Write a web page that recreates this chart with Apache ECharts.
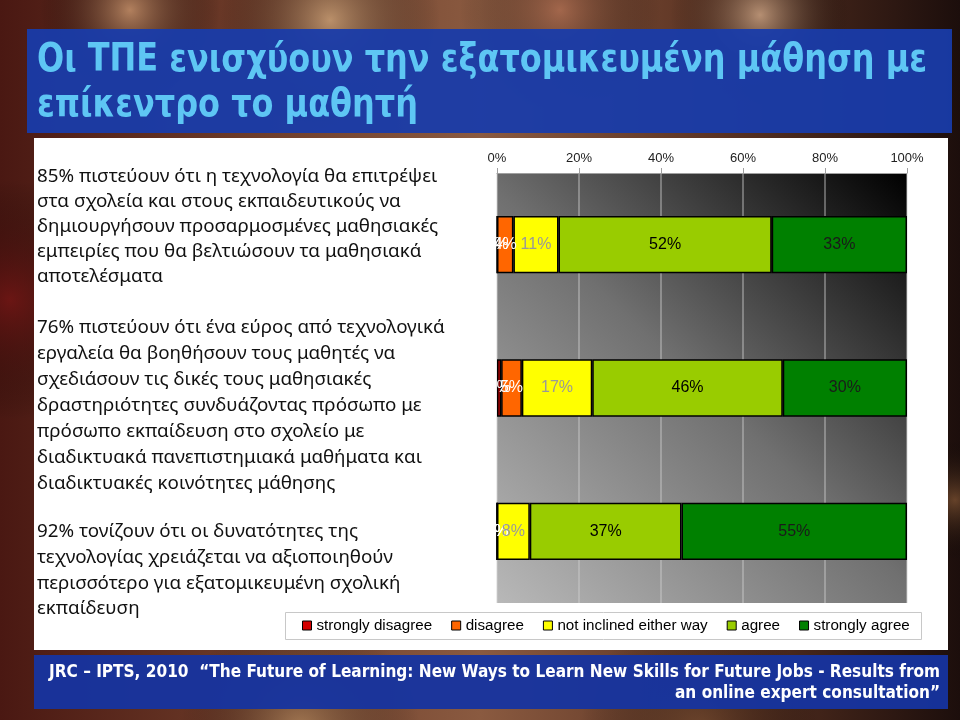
<!DOCTYPE html>
<html>
<head>
<meta charset="utf-8">
<script src="https://cdn.jsdelivr.net/npm/echarts@6/dist/echarts.min.js"></script>
<style>
html,body{margin:0;padding:0;background:#3a1a12;}
#chart{width:960px;height:720px;}
</style>
</head>
<body>
<div id="chart"></div>
<script>
// ---- data ----
const categories = ['row1', 'row2', 'row3'];
const seriesNames = ['strongly disagree', 'disagree', 'not inclined either way', 'agree', 'strongly agree'];
const stronglyDisagree = [0, 1, 0];
const disagree = [4, 5, 0];
const notInclined = [11, 17, 8];
const agree = [52, 46, 37];
const stronglyAgree = [33, 30, 55];
const tickLabels = ['0%', '20%', '40%', '60%', '80%', '100%'];

const titleLines = ['Οι ΤΠΕ ενισχύουν την εξατομικευμένη μάθηση με', 'επίκεντρο το μαθητή'];
const text1 = ['85% πιστεύουν ότι η τεχνολογία θα επιτρέψει', 'στα σχολεία και στους εκπαιδευτικούς να', 'δημιουργήσουν προσαρμοσμένες μαθησιακές', 'εμπειρίες που θα βελτιώσουν τα μαθησιακά', 'αποτελέσματα'];
const text2 = ['76% πιστεύουν ότι ένα εύρος από τεχνολογικά', 'εργαλεία θα βοηθήσουν τους μαθητές να', 'σχεδιάσουν τις δικές τους μαθησιακές', 'δραστηριότητες συνδυάζοντας πρόσωπο με', 'πρόσωπο εκπαίδευση στο σχολείο με', 'διαδικτυακά πανεπιστημιακά μαθήματα και', 'διαδικτυακές κοινότητες μάθησης'];
const text3 = ['92% τονίζουν ότι οι δυνατότητες της', 'τεχνολογίας χρειάζεται να αξιοποιηθούν', 'περισσότερο για εξατομικευμένη σχολική', 'εκπαίδευση'];
const footerLines = ['JRC – IPTS, 2010  “The Future of Learning: New Ways to Learn New Skills for Future Jobs - Results from', 'an online expert consultation”'];

// ---- styles ----
const colors = ['#d40000', '#ff6600', '#ffff00', '#99cc00', '#008000'];
const labelColors = ['#ffffff', '#ffffff', '#999999', '#000000', '#1a1a1a'];
const seriesData = [stronglyDisagree, disagree, notInclined, agree, stronglyAgree];

// 100% stacked: each row is drawn as share of its total (as the original chart type does)
const rowTotals = categories.map(function (_, r) {
  return seriesData.reduce(function (s, arr) { return s + arr[r]; }, 0);
});

const chart = echarts.init(document.getElementById('chart'), null, {renderer: 'canvas'});

const measureCtx = document.createElement('canvas').getContext('2d');
function fitScale(text, font, target) {
  measureCtx.font = font;
  return target / measureCtx.measureText(text).width;
}

function radial(cx, cy, r, color) {
  return {
    type: 'circle', z: -90, silent: true,
    shape: {cx: cx, cy: cy, r: r},
    style: {fill: {type: 'radial', x: 0.5, y: 0.5, r: 0.5, colorStops: [
      {offset: 0, color: color}, {offset: 1, color: 'rgba(0,0,0,0)'}]}}
  };
}

const bodyFont = '18.8px "Noto Sans", "Open Sans", sans-serif';
const titleFont = 'bold 39px "DejaVu Sans Condensed", "DejaVu Sans", sans-serif';
const footerFont = 'bold 18px "DejaVu Sans Condensed", "DejaVu Sans", sans-serif';
const titleScale = fitScale(titleLines[0], titleFont, 890);
const footerScale = fitScale(footerLines[0], footerFont, 891);

const graphics = [
  {type: 'rect', z: -100, silent: true, shape: {x: 0, y: 0, width: 960, height: 720},
   style: {fill: {type: 'linear', x: 0, y: 0, x2: 1, y2: 0, colorStops: [
     {offset: 0, color: '#4a1812'}, {offset: 0.25, color: '#6b3a28'}, {offset: 0.5, color: '#8a5a40'},
     {offset: 0.75, color: '#5a3222'}, {offset: 1, color: '#1c0e0c'}]}}},
  radial(130, 10, 90, 'rgba(200,150,110,0.8)'),
  radial(330, 20, 110, 'rgba(215,175,130,0.7)'),
  radial(560, 10, 100, 'rgba(190,120,90,0.6)'),
  radial(760, 15, 90, 'rgba(225,185,150,0.7)'),
  radial(10, 300, 120, 'rgba(120,20,20,0.7)'),
  radial(955, 500, 60, 'rgba(150,100,60,0.6)'),
  radial(300, 730, 120, 'rgba(200,160,110,0.6)'),
  radial(700, 730, 120, 'rgba(120,80,50,0.6)'),
  // title bar
  {type: 'rect', z: -50, silent: true, shape: {x: 27, y: 29, width: 925, height: 104},
   style: {fill: 'rgba(24,60,170,0.94)'}},
  // white panel
  {type: 'rect', z: -50, silent: true, shape: {x: 34, y: 138, width: 914, height: 512},
   style: {fill: '#ffffff'}},
  // footer bar
  {type: 'rect', z: -50, silent: true, shape: {x: 34, y: 655, width: 914, height: 54},
   style: {fill: 'rgba(22,52,160,0.95)'}},
  // legend box
  {type: 'rect', z: -40, silent: true, shape: {x: 285.5, y: 612.5, width: 636, height: 27},
   style: {fill: '#ffffff', stroke: '#c8c8c8', lineWidth: 1}},
  // title text
  {type: 'text', z: 10, silent: true, x: 37, y: 38, scaleX: titleScale,
   style: {text: titleLines.join('\n'), fill: '#5ec6f4', lineHeight: 45, font: titleFont}},
  // left texts
  {type: 'text', z: 10, silent: true, x: 37, y: 164,
   style: {text: text1.join('\n'), fill: '#111', lineHeight: 25, font: bodyFont}},
  {type: 'text', z: 10, silent: true, x: 37, y: 315,
   style: {text: text2.join('\n'), fill: '#111', lineHeight: 26, font: bodyFont}},
  {type: 'text', z: 10, silent: true, x: 37, y: 519,
   style: {text: text3.join('\n'), fill: '#111', lineHeight: 25.7, font: bodyFont}},
  // footer text
  {type: 'text', z: 10, silent: true, x: 940, y: 662, scaleX: footerScale,
   style: {text: footerLines.join('\n'), fill: '#ffffff', align: 'right', lineHeight: 21, font: footerFont}}
];

const series = seriesNames.map(function (name, i) {
  return {
    name: name,
    type: 'bar',
    stack: 'total',
    barWidth: '40%',
    data: seriesData[i].map(function (v, r) {
      return {value: v / rowTotals[r] * 100, raw: v};
    }),
    itemStyle: {color: colors[i], borderColor: '#000', borderWidth: 1.5},
    label: {
      show: true, position: 'inside',
      formatter: function (p) { return p.data.raw + '%'; },
      color: labelColors[i], fontSize: 16, fontFamily: '"Liberation Sans", Arial, sans-serif',
      textBorderWidth: 0
    },
    emphasis: {disabled: true}
  };
});

chart.setOption({
  animation: false,
  graphic: graphics,
  grid: {
    left: 497, right: 53, top: 173, height: 430, containLabel: false,
    show: true, borderWidth: 0,
    backgroundColor: {type: 'linear', x: 0, y: 1, x2: 1, y2: 0, colorStops: [
      {offset: 0, color: '#b8b8b8'}, {offset: 0.5, color: '#707070'}, {offset: 1, color: '#000000'}]}
  },
  legend: {
    data: seriesNames, left: 302, top: 618, itemWidth: 9, itemHeight: 9, itemGap: 19,
    icon: 'rect', padding: 0,
    textStyle: {fontSize: 15.2, color: '#000', fontFamily: '"Liberation Sans", Arial, sans-serif'},
    itemStyle: {borderColor: '#000', borderWidth: 1}
  },
  xAxis: {
    type: 'value', position: 'top', min: 0, max: 100, interval: 20,
    axisLine: {show: true, lineStyle: {color: '#a0a0a0'}},
    axisTick: {show: true, length: 5, lineStyle: {color: '#a0a0a0'}},
    axisLabel: {
      margin: 8, fontSize: 13, color: '#222', fontFamily: '"Liberation Sans", Arial, sans-serif',
      formatter: function (v) { return tickLabels[Math.round(v / 20)]; }
    },
    splitLine: {show: true, lineStyle: {color: 'rgba(210,210,210,0.55)', width: 1.5}}
  },
  yAxis: {
    type: 'category', data: categories, inverse: true,
    axisLine: {show: false}, axisTick: {show: false}, axisLabel: {show: false},
    splitLine: {show: false}
  },
  series: series
});
</script>
</body>
</html>
